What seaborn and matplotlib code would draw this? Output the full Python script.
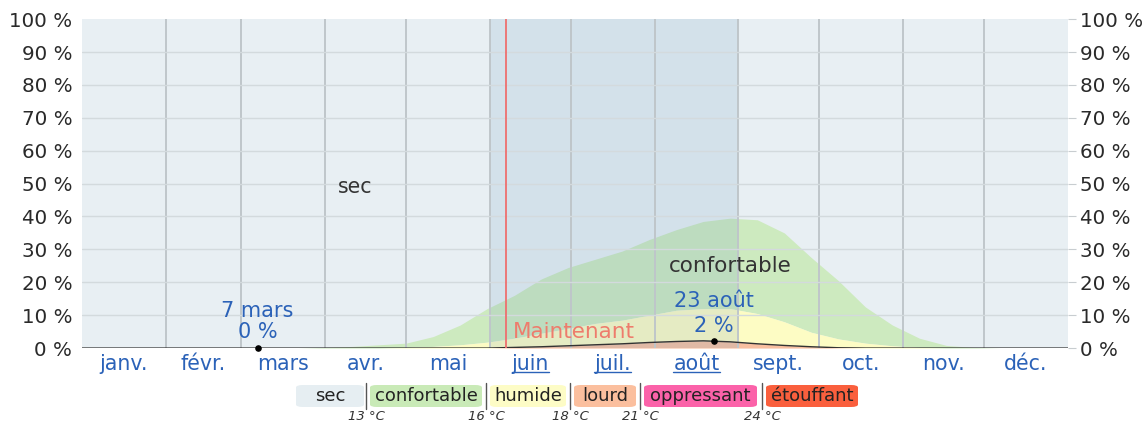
import numpy as np
import pandas as pd
import matplotlib
matplotlib.use("Agg")
import matplotlib.pyplot as plt
import seaborn as sns
from matplotlib.patches import FancyBboxPatch

# day of year (0 = 1 Jan) and share of time per humidity class, in %
days = [0, 10, 20, 30, 40, 50, 60, 70, 80, 90, 100, 110, 120, 130, 140, 150, 160, 170, 180,
        190, 200, 210, 220, 230, 240, 250, 260, 270, 280, 290, 300, 310, 320, 330, 340, 350, 360, 365]
lourd = [0, 0, 0, 0, 0, 0, 0, 0, 0, 0, 0, 0, 0, 0, 0, 0, 0.2, 0.4, 0.7,
         1.0, 1.3, 1.7, 2.0, 2.2, 1.9, 1.3, 0.8, 0.4, 0.1, 0, 0, 0, 0, 0, 0, 0, 0, 0]
humide = [0, 0, 0, 0, 0, 0, 0, 0, 0, 0, 0, 0, 0.2, 0.5, 1.0, 1.8, 2.8, 4.1, 5.3,
          6.5, 7.2, 8.3, 9.5, 9.8, 10.1, 9.2, 7.2, 4.4, 2.7, 1.5, 0.7, 0.2, 0, 0, 0, 0, 0, 0]
confortable = [0, 0, 0, 0, 0, 0, 0, 0, 0, 0.2, 0.5, 1.0, 1.3, 3.0, 6.0, 10.2, 13.0, 16.5, 18.5,
               19.5, 21.0, 23.0, 24.5, 26.5, 27.5, 28.5, 27.0, 22.7, 17.7, 11.0, 6.3, 2.8, 0.8, 0.2, 0, 0, 0, 0]

month_starts = [0, 31, 59, 90, 120, 151, 181, 212, 243, 273, 304, 334, 365]
month_names = ["janv.", "févr.", "mars", "avr.", "mai", "juin", "juil.", "août",
               "sept.", "oct.", "nov.", "déc."]
summer_months = ["juin", "juil.", "août"]

classes = ["sec", "confortable", "humide", "lourd", "oppressant", "étouffant"]
class_colors = ["#e6eef2", "#c9eab7", "#fdfcc6", "#fbbf9e", "#fb62a9", "#fa5f3d"]
dew_points = ["13 °C", "16 °C", "18 °C", "21 °C", "24 °C"]

now_day = 157
summer = (151, 243)
min_day, min_val, min_label = 65, 0, "7 mars"
max_day, max_val, max_label = 234, 2, "23 août"

df = pd.DataFrame({"day": days, "lourd": lourd, "humide": humide, "confortable": confortable})
df["top_lourd"] = df["lourd"]
df["top_humide"] = df["top_lourd"] + df["humide"]
df["top_conf"] = df["top_humide"] + df["confortable"]

sns.set_theme(style="white")
plt.rcParams["font.family"] = ["DejaVu Sans"]

fig = plt.figure(figsize=(11.48, 4.25), dpi=100)
ax = fig.add_axes([0.0714, 0.181, 0.8589, 0.774])
ax.set_facecolor("#e8eff3")

ax.fill_between(df["day"], df["top_humide"], df["top_conf"], color="#cdeabf", lw=0, zorder=1)
ax.fill_between(df["day"], df["top_lourd"], df["top_humide"], color="#fdfcc4", lw=0, zorder=1)
ax.fill_between(df["day"], 0, df["top_lourd"], color="#f8bfa0", lw=0, zorder=1)
sns.lineplot(data=df, x="day", y="top_lourd", color="#333333", lw=1.0, ax=ax, zorder=4)

# summer shading
ax.axvspan(summer[0], summer[1], color="#6f9cc2", alpha=0.17, lw=0, zorder=2)

ax.set_xlim(0, 365)
ax.set_ylim(0, 100)
yt = list(range(0, 101, 10))
ax.set_yticks(yt)
ax.set_yticklabels([f"{v} %" for v in yt], fontsize=14.3, color="#2a2a2a")
ax.set_xticks(month_starts)
ax.set_xticklabels([])
mids = [(a + b) / 2 for a, b in zip(month_starts[:-1], month_starts[1:])]
ax.set_xticks(mids, minor=True)
ax.set_xticklabels(month_names, minor=True, fontsize=14.8, color="#2b62b8")
ax.tick_params(axis="x", which="both", length=0, pad=4)
ax.tick_params(axis="y", length=0, pad=7)
ax.set_xlabel("")
ax.set_ylabel("")

for x in month_starts[1:-1]:
    ax.axvline(x, color="#bfc6ca", lw=1.4, zorder=3)
for y in yt[1:-1]:
    ax.axhline(y, color="#d3dadd", lw=1.0, zorder=3)
for s in ax.spines.values():
    s.set_visible(False)

ax2 = ax.twinx()
ax2.set_ylim(0, 100)
ax2.set_yticks(yt)
ax2.set_yticklabels([f"{v} %" for v in yt], fontsize=14.3, color="#2a2a2a")
ax2.tick_params(axis="y", length=6, width=0.8, color="#c8cdd0", pad=3)
for s in ax2.spines.values():
    s.set_visible(False)

# now line
ax.axvline(now_day, color="#ee6f6f", lw=1.3, zorder=5)
ax.text(now_day + 2.5, 4.9, "Maintenant", color="#ee7c6c", fontsize=15.5, va="center", ha="left", zorder=6)

ax.text(101, 49, "sec", color="#333333", fontsize=14.8, ha="center", va="center", zorder=6)
ax.text(240, 25, "confortable", color="#333333", fontsize=15.5, ha="center", va="center", zorder=6)

# min / max markers
ax.scatter([min_day, max_day], [min_val, 2.1], color="black", s=14, zorder=7, clip_on=False)
ax.text(min_day, 11.2, min_label, color="#2b62b8", fontsize=15, ha="center", va="center", zorder=6)
ax.text(min_day, 4.9, f"{min_val} %", color="#2b62b8", fontsize=15, ha="center", va="center", zorder=6)
ax.text(max_day, 14.3, max_label, color="#2b62b8", fontsize=15, ha="center", va="center", zorder=6)
ax.text(max_day, 6.7, f"{max_val} %", color="#2b62b8", fontsize=15, ha="center", va="center", zorder=6)

# underline summer month labels
fig.canvas.draw()
W, H = fig.get_size_inches() * fig.dpi
for lab in ax.get_xticklabels(minor=True):
    if lab.get_text() in summer_months:
        bb = lab.get_window_extent()
        yline = (bb.y0 + 2) / H
        fig.add_artist(plt.Line2D([bb.x0 / W, bb.x1 / W], [yline, yline],
                                  color="#2b62b8", lw=1.0))

# legend boxes (pixel positions)
box_x = [296, 370, 490, 574, 644, 766]
box_w = [68, 112, 76, 62, 113, 92]
seps = [366, 486, 570, 640, 762]
for c, col, x0, w in zip(classes, class_colors, box_x, box_w):
    p = FancyBboxPatch((x0 / W, 1 - 407 / H), w / W, 22 / H,
                       boxstyle="round,pad=0,rounding_size=0.006",
                       transform=fig.transFigure, facecolor=col, edgecolor="none")
    fig.add_artist(p)
    fig.text((x0 + w / 2) / W, 1 - 396 / H, c, ha="center", va="center",
             fontsize=13, color="#222222")
for sx, t in zip(seps, dew_points):
    fig.add_artist(plt.Line2D([sx / W, sx / W], [1 - 409 / H, 1 - 383 / H],
                              color="#555555", lw=1.0))
    fig.text(sx / W, 1 - 417 / H, t, ha="center", va="center", fontsize=9.5,
             style="italic", color="#333333")

fig.savefig("out.png", dpi=100)
